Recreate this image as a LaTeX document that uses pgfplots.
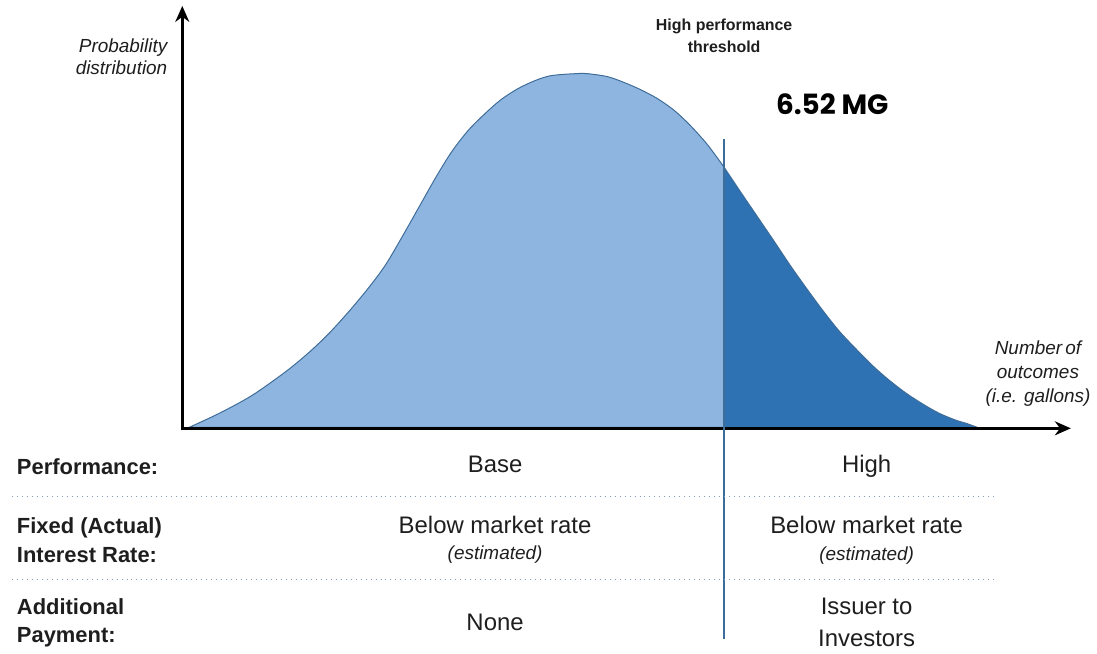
\documentclass[border=0pt]{standalone}
\usepackage{pgfplots}
\pgfplotsset{compat=1.18}
\usepackage{fontspec}
\setmainfont{Liberation Sans}
\newfontfamily\poppins{Poppins}
\usetikzlibrary{arrows.meta}
\definecolor{lightfill}{HTML}{8DB5E0}
\definecolor{darkfill}{HTML}{2E72B3}
\definecolor{edgeblue}{HTML}{3F6D99}
\definecolor{txt}{HTML}{1E1E1E}
\definecolor{sepline}{HTML}{7F9CC0}

\begin{document}
\begin{tikzpicture}
	\begin{axis}[
		width=548.5pt, height=328pt,
		scale only axis,
		xmin=0, xmax=1097,
		ymin=-227, ymax=429,
		hide axis,
		clip=false,
	]
	% invisible frame so the page is the full picture
	\path (axis cs:0,-227) rectangle (axis cs:1097,429);

	% base part of the distribution
	\addplot[
		smooth, tension=0.5,
		fill=lightfill,
		draw=edgeblue,
		line width=0.5pt,
	]
	coordinates {
		(190,0)(220,14)(253,32)(287,56)(310,75)(330,94)(350,116)(370,140)
		(387,163)(403,190)(420,220)(437,250)(453,276)(470,298)(487,315)(503,329)
		(520,340)(537,348)(553,353)(577,355)(590,355)(610,352)(627,346)(643,339)
		(660,330)(677,318)(693,303)(710,284)(727,261)
	} \closedcycle;

	% high performance tail
	\addplot[
		smooth, tension=0.5,
		fill=darkfill,
		draw=edgeblue,
		line width=0.5pt,
	]
	coordinates {
		(727,261)(743,237)(760,212)(777,187)(793,163)(810,139)(827,116)(843,96)
		(860,78)(877,61)(893,47)(910,34)(927,23)(943,14)(960,7)(970,4)(981,0)
	} \closedcycle;

	% axes with arrows
	\draw[line width=1.4pt, -{Stealth[length=8pt,width=7pt]}] (axis cs:183,-2) -- (axis cs:183,423);
	\draw[line width=1.4pt, -{Stealth[length=8pt,width=7pt]}] (axis cs:182,-1) -- (axis cs:1075,-1);

	% threshold line
	\draw[edgeblue, line width=0.8pt] (axis cs:727,289) -- (axis cs:727,-213);

	% separators of the table
	\draw[sepline, line width=0.5pt, dotted] (axis cs:12,-69) -- (axis cs:998,-69);
	\draw[sepline, line width=0.5pt, dotted] (axis cs:12,-153) -- (axis cs:998,-153);

	% labels round the chart
	\node[anchor=east, align=right, font=\fontsize{9.5}{11.5}\selectfont\itshape, text=txt]
		at (axis cs:175,372) {Probability\\distribution};
	\node[align=center, font=\fontsize{8}{11.5}\selectfont\bfseries, text=txt]
		at (axis cs:727,393) {High performance\\threshold};
	\node[anchor=west, font=\fontsize{14}{16}\selectfont\poppins\bfseries]
		at (axis cs:772,324) {6.52 MG};
	\node[align=center, font=\fontsize{9.5}{12}\selectfont\itshape, text=txt]
		at (axis cs:1042,54) {Number\,of\\outcomes\\(i.e. gallons)};

	% table rows
	\node[anchor=west, font=\fontsize{11}{14}\selectfont\bfseries, text=txt]
		at (axis cs:10,-40) {Performance:};
	\node[font=\fontsize{12}{14}\selectfont, text=txt] at (axis cs:497,-37) {Base};
	\node[font=\fontsize{12}{14}\selectfont, text=txt] at (axis cs:870,-39) {High};

	\node[anchor=west, align=left, font=\fontsize{11}{14.5}\selectfont\bfseries, text=txt]
		at (axis cs:10,-113) {Fixed (Actual)\\Interest Rate:};
	\node[font=\fontsize{12}{14}\selectfont, text=txt] at (axis cs:497,-98) {Below market rate};
	\node[font=\fontsize{9.5}{11}\selectfont\itshape, text=txt] at (axis cs:497,-128) {(estimated)};
	\node[font=\fontsize{12}{14}\selectfont, text=txt] at (axis cs:870,-98) {Below market rate};
	\node[font=\fontsize{9.5}{11}\selectfont\itshape, text=txt] at (axis cs:870,-129) {(estimated)};

	\node[anchor=west, align=left, font=\fontsize{11}{14}\selectfont\bfseries, text=txt]
		at (axis cs:10,-196) {Additional\\Payment:};
	\node[font=\fontsize{12}{14}\selectfont, text=txt] at (axis cs:497,-196) {None};
	\node[align=center, font=\fontsize{12}{16}\selectfont, text=txt]
		at (axis cs:870,-196) {Issuer to\\Investors};
	\end{axis}
\end{tikzpicture}
\end{document}
